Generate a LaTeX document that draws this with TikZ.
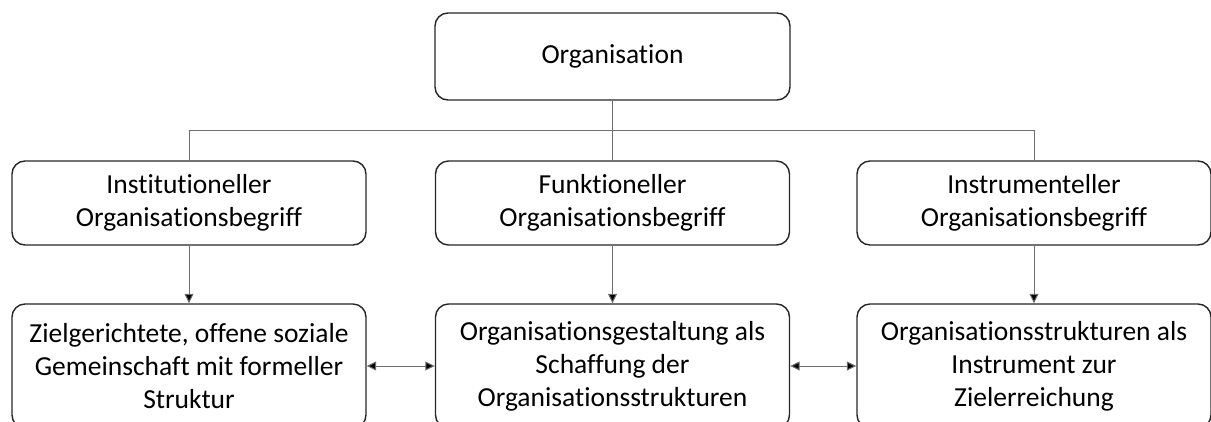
\documentclass[tikz,border=0pt]{standalone}
\usepackage{fontspec}
\setmainfont{Carlito}[Ligatures=NoCommon]
\usetikzlibrary{arrows.meta}
\definecolor{boxline}{HTML}{262626}
\definecolor{linkline}{HTML}{6E6E6E}
\begin{document}
\begin{tikzpicture}[x=1pt,y=-1pt,
  box/.style={draw=boxline,line width=1.4pt,rounded corners=13pt,align=center,
    inner sep=0pt,font=\fontsize{27.5}{33}\selectfont,text=black},
  headbox/.style={box,minimum width=355pt,minimum height=87pt},
  midbox/.style={box,minimum width=354pt,minimum height=84pt},
  lowbox/.style={box,minimum width=354pt,minimum height=124pt},
  link/.style={draw=linkline,line width=1pt},
  arrow/.style={link,-{Triangle[length=9.5pt,width=9pt,fill=black]}},
  twoway/.style={link,{Triangle[length=9.5pt,width=9pt,fill=black]}-{Triangle[length=9.5pt,width=9pt,fill=black]}}]
\useasboundingbox (0,0) rectangle (1211,421);
\clip (0,0) rectangle (1211,421);

% top node
\node[headbox] (org) at (612.5,56.5) {Organisation};

% middle row: the three notions of organisation
\node[midbox] (inst) at (189,203) {Institutioneller\\Organisationsbegriff};
\node[midbox] (funk) at (612.5,203) {Funktioneller\\Organisationsbegriff};
\node[midbox] (instr) at (1034,203) {Instrumenteller\\Organisationsbegriff};

% bottom row: descriptions
\node[lowbox] (dinst) at (189,366) {Zielgerichtete, offene soziale\\Gemeinschaft mit formeller\\Struktur};
\node[lowbox] (dfunk) at (612.5,366) {Organisationsgestaltung als\\Schaffung der\\Organisationsstrukturen};
\node[lowbox] (dinstr) at (1034,366) {Organisationsstrukturen als\\Instrument zur\\Zielerreichung};

% tree connectors
\coordinate (bus) at (612.5,130.5);
\draw[link] (org.south) -- (funk.north);
\draw[link] (inst.north) |- (bus) -| (instr.north);

% downward arrows
\draw[arrow] (inst.south) -- (dinst.north);
\draw[arrow] (funk.south) -- (dfunk.north);
\draw[arrow] (instr.south) -- (dinstr.north);

% horizontal two-way arrows
\draw[twoway] (dinst.east) -- (dfunk.west);
\draw[twoway] (dfunk.east) -- (dinstr.west);
\end{tikzpicture}
\end{document}
